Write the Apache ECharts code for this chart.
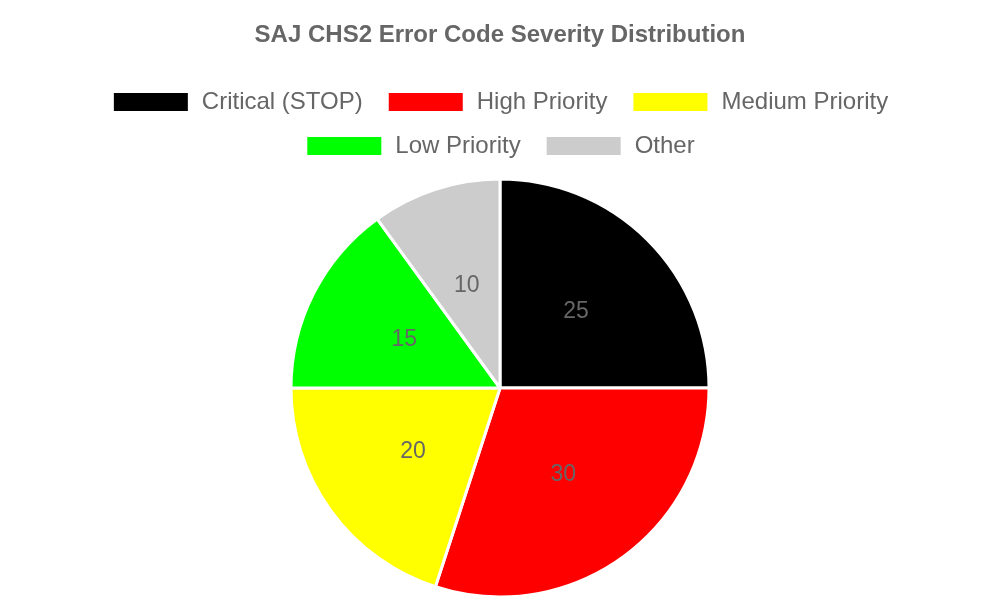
<!DOCTYPE html>
<html>
<head>
<meta charset="utf-8">
<script src="https://cdn.jsdelivr.net/npm/echarts@6/dist/echarts.min.js"></script>
<style>html,body{margin:0;padding:0;background:#fff;}#c{width:1000px;height:600px;}</style>
</head>
<body>
<div id="c"></div>
<script>
var categories = ['Critical (STOP)', 'High Priority', 'Medium Priority', 'Low Priority', 'Other'];
var values = [25, 30, 20, 15, 10];
var colors = ['#000000', '#ff0000', '#ffff00', '#00ff00', '#cccccc'];
var titleText = 'SAJ CHS2 Error Code Severity Distribution';

var font = '"Liberation Sans", Arial, sans-serif';
var legendText = {color: '#666666', fontSize: 24, fontFamily: font, padding: [0, 0, 0, 8]};
var chart = echarts.init(document.getElementById('c'));
chart.setOption({
  animation: false,
  title: {
    text: titleText, left: 'center', top: 18,
    textStyle: {color: '#666666', fontSize: 24, fontWeight: 'bold', fontFamily: font}
  },
  legend: [
    {data: categories.slice(0, 3), left: 'center', top: 85, itemWidth: 76, itemHeight: 20, itemGap: 24,
     icon: 'rect', textStyle: legendText, selectedMode: false},
    {data: categories.slice(3), left: 'center', top: 129, itemWidth: 76, itemHeight: 20, itemGap: 24,
     icon: 'rect', textStyle: legendText, selectedMode: false}
  ],
  series: [{
    type: 'pie',
    center: [500, 388],
    radius: [0, 209],
    startAngle: 90,
    clockwise: true,
    emphasis: {disabled: true},
    itemStyle: {borderColor: '#ffffff', borderWidth: 3},
    label: {show: true, position: 'inside', formatter: '{c}', color: '#666666', fontSize: 23, fontFamily: font, padding: [5, 0, 0, 0]},
    labelLine: {show: false},
    data: categories.map(function (n, i) {
      return {name: n, value: values[i], itemStyle: {color: colors[i]}};
    })
  }]
});
</script>
</body>
</html>
